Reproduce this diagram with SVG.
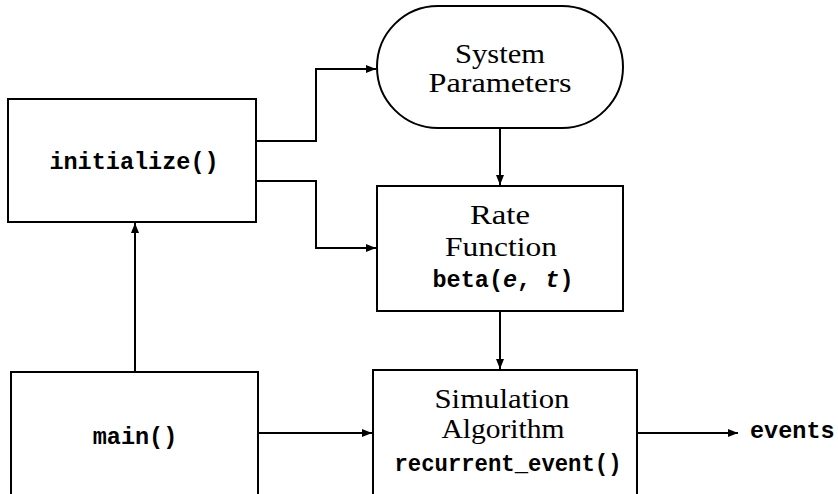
<svg xmlns="http://www.w3.org/2000/svg" width="838" height="494" viewBox="0 0 838 494">
  <style>
    .box { fill: #fff; stroke: #000; stroke-width: 2; }
    .wire { fill: none; stroke: #000; stroke-width: 2; }
    .rm { font-family: "Liberation Serif", "Times New Roman", serif; font-size: 27px; fill: #000; text-anchor: middle; }
    .tt { font-family: "Liberation Mono", "Courier New", monospace; font-size: 23.5px; font-weight: bold; fill: #000; text-anchor: middle; }
  </style>
  <defs>
    <marker id="arrow" viewBox="0 0 10 8" refX="10" refY="4" markerWidth="10" markerHeight="8" markerUnits="userSpaceOnUse" orient="auto">
      <path d="M0,0 L10,4 L0,8 Z" fill="#000"/>
    </marker>
  </defs>

  <g id="connectors">
    <path class="wire" d="M256,141 H316 V69 H376" marker-end="url(#arrow)"/>
    <path class="wire" d="M256,181 H316 V248 H376" marker-end="url(#arrow)"/>
    <path class="wire" d="M500,128 V185" marker-end="url(#arrow)"/>
    <path class="wire" d="M500,311 V369" marker-end="url(#arrow)"/>
    <path class="wire" d="M135,372 V223" marker-end="url(#arrow)"/>
    <path class="wire" d="M258,433 H372" marker-end="url(#arrow)"/>
    <path class="wire" d="M637,433 H738" marker-end="url(#arrow)"/>
  </g>

  <g id="initialize">
    <rect class="box" x="8" y="99" width="248" height="123"/>
    <text class="tt" x="134" y="169">initialize()</text>
  </g>

  <g id="system-parameters">
    <rect class="box" x="377" y="6" width="246" height="122" rx="61" ry="61"/>
    <text class="rm" x="500" y="63" textLength="90" lengthAdjust="spacingAndGlyphs">System</text>
    <text class="rm" x="500" y="92" textLength="143" lengthAdjust="spacingAndGlyphs">Parameters</text>
  </g>

  <g id="rate-function">
    <rect class="box" x="377" y="186" width="246" height="125"/>
    <text class="rm" x="500" y="224" textLength="60" lengthAdjust="spacingAndGlyphs">Rate</text>
    <text class="rm" x="501" y="256" textLength="112" lengthAdjust="spacingAndGlyphs">Function</text>
    <text class="tt" x="503" y="287">beta(<tspan font-style="italic">e</tspan>, <tspan font-style="italic">t</tspan>)</text>
  </g>

  <g id="main">
    <rect class="box" x="11" y="372" width="247" height="130"/>
    <text class="tt" x="135" y="444">main()</text>
  </g>

  <g id="simulation-algorithm">
    <rect class="box" x="373" y="370" width="264" height="132"/>
    <text class="rm" x="502" y="408" textLength="135" lengthAdjust="spacingAndGlyphs">Simulation</text>
    <text class="rm" x="503" y="438" textLength="123" lengthAdjust="spacingAndGlyphs">Algorithm</text>
    <text class="tt" x="508" y="471" textLength="227" lengthAdjust="spacingAndGlyphs">recurrent_event()</text>
  </g>

  <g id="events">
    <text class="tt" x="750" y="438" style="text-anchor:start">events</text>
  </g>
</svg>
